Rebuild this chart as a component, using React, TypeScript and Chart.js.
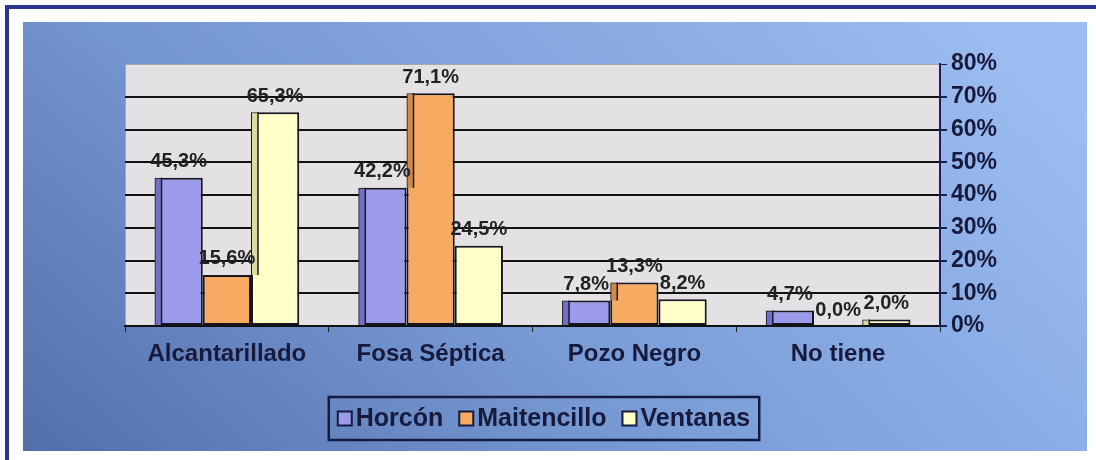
import React, { useEffect, useRef } from "react";
import { Chart, registerables } from "chart.js";

Chart.register(...registerables);

const categories = ["Alcantarillado", "Fosa Séptica", "Pozo Negro", "No tiene"];
const seriesNames = ["Horcón", "Maitencillo", "Ventanas"];
const horcon = [45.3, 42.2, 7.8, 4.7];
const maitencillo = [15.6, 71.1, 13.3, 0.0];
const ventanas = [65.3, 24.5, 8.2, 2.0];
const yMin = 0;
const yMax = 80;
const yStep = 10;

const faceColors = ["#9c9aea", "#f6aa62", "#ffffc8"];
const sideColors = ["#7270c6", "#cf8a48", "#dcdaa0"];
const textColor = "#171a3c";
const FONT = "'Liberation Sans', Arial, sans-serif";

const fmt = (v: number) => v.toFixed(1).replace(".", ",") + "%";

const backgroundPlugin = {
  id: "bgPlugin",
  beforeDraw(chart: any) {
    const { ctx, width, height, chartArea } = chart;
    ctx.save();
    ctx.fillStyle = "#ffffff";
    ctx.fillRect(0, 0, width, height);
    ctx.fillStyle = "#2b3490";
    ctx.fillRect(5, 5, width - 5, 4);
    ctx.fillRect(5, 5, 4, height - 5);
    const x0 = 23, y0 = 22, x1 = 1087, y1 = 451;
    const g = ctx.createLinearGradient(x0, y1, x0 + 500, y0 - 300);
    g.addColorStop(0, "#5875b0");
    g.addColorStop(0.45, "#7c9fda");
    g.addColorStop(1, "#9cbcf0");
    ctx.fillStyle = g;
    ctx.fillRect(x0, y0, x1 - x0, y1 - y0);
    const g2 = ctx.createLinearGradient(x0, 0, x1, 0);
    g2.addColorStop(0, "rgba(40,60,120,0.10)");
    g2.addColorStop(1, "rgba(160,200,255,0.12)");
    ctx.fillStyle = g2;
    ctx.fillRect(x0, y0, x1 - x0, y1 - y0);
    ctx.fillStyle = "#e3e1e3";
    ctx.fillRect(chartArea.left, chartArea.top, chartArea.right - chartArea.left, chartArea.bottom - chartArea.top);
    ctx.strokeStyle = "#a8a8ac";
    ctx.lineWidth = 1;
    ctx.strokeRect(chartArea.left + 0.5, chartArea.top + 0.5, chartArea.right - chartArea.left - 1, chartArea.bottom - chartArea.top - 1);
    ctx.restore();
  },
};

const barDecorPlugin = {
  id: "barDecor",
  afterDatasetsDraw(chart: any) {
    const { ctx } = chart;
    ctx.save();
    const metas = chart.data.datasets.map((_: any, i: number) => chart.getDatasetMeta(i));
    metas.forEach((meta: any, i: number) => {
      meta.data.forEach((bar: any, j: number) => {
        const p = bar.getProps(["x", "y", "base", "width"], true);
        const left = p.x - p.width / 2;
        let bottom = p.base;
        if (i > 0) {
          const prev = metas[i - 1].data[j].getProps(["y"], true);
          bottom = Math.min(p.base, prev.y);
        }
        if (bottom - p.y > 1) {
          ctx.fillStyle = sideColors[i];
          ctx.fillRect(left + 1, p.y + 1, 6, bottom - p.y - 1);
          ctx.strokeStyle = "#1a1a2a";
          ctx.lineWidth = 1.5;
          ctx.beginPath();
          ctx.moveTo(left + 7, p.y);
          ctx.lineTo(left + 7, bottom);
          ctx.stroke();
        }
      });
    });
    ctx.fillStyle = "#222226";
    ctx.font = `bold 20px ${FONT}`;
    ctx.textAlign = "center";
    ctx.textBaseline = "bottom";
    metas.forEach((meta: any, i: number) => {
      const ds = chart.data.datasets[i];
      meta.data.forEach((bar: any, j: number) => {
        const p = bar.getProps(["x", "y"], true);
        ctx.fillText(fmt(ds.data[j]), p.x, p.y - 6);
      });
    });
    ctx.restore();
  },
  afterDraw(chart: any) {
    const { ctx } = chart;
    ctx.save();
    ctx.font = `bold 25px ${FONT}`;
    const sq = 14, gapSq = 4, gapItem = 16, pad = 9;
    const items = chart.data.datasets.map((d: any, i: number) => ({
      label: d.label,
      color: faceColors[i],
      w: sq + gapSq + ctx.measureText(d.label).width,
    }));
    const total = items.reduce((s: number, it: any) => s + it.w, 0) + gapItem * (items.length - 1);
    const cx = 544;
    const boxW = total + pad * 2;
    const bx = cx - boxW / 2;
    const by = 397, bh = 43;
    ctx.strokeStyle = "#171a40";
    ctx.lineWidth = 2.5;
    ctx.strokeRect(bx, by, boxW, bh);
    let x = bx + pad;
    const my = by + bh / 2;
    items.forEach((it: any) => {
      ctx.fillStyle = it.color;
      ctx.fillRect(x, my - sq / 2, sq, sq);
      ctx.strokeStyle = "#171a40";
      ctx.lineWidth = 2;
      ctx.strokeRect(x, my - sq / 2, sq, sq);
      ctx.fillStyle = textColor;
      ctx.textAlign = "left";
      ctx.textBaseline = "middle";
      ctx.fillText(it.label, x + sq + gapSq, my + 1);
      x += it.w + gapItem;
    });
    ctx.restore();
  },
};

export default function App() {
  const ref = useRef<HTMLCanvasElement | null>(null);
  useEffect(() => {
    if (!ref.current) return;
    const seriesValues = [horcon, maitencillo, ventanas];
    const chart = new Chart(ref.current, {
      type: "bar",
      data: {
        labels: categories,
        datasets: seriesNames.map((name, i) => ({
          label: name,
          data: seriesValues[i],
          backgroundColor: faceColors[i],
          borderColor: "#15151f",
          borderWidth: 2,
          borderSkipped: false,
          categoryPercentage: 0.71,
          barPercentage: 1,
        })),
      },
      options: {
        responsive: false,
        animation: false,
        devicePixelRatio: 1,
        layout: { padding: { left: 125, top: 64, right: 0, bottom: 0 } },
        plugins: { legend: { display: false }, tooltip: { enabled: false } },
        scales: {
          x: {
            afterFit: (s: any) => { s.height = 134; },
            grid: { display: true, drawOnChartArea: false, offset: true, tickLength: 6, color: "#222", lineWidth: 1 },
            border: { display: true, color: "#111", width: 2 },
            ticks: { color: textColor, font: { family: FONT, size: 24, weight: "bold" }, padding: 8 },
          },
          y: {
            position: "right",
            min: yMin,
            max: yMax,
            afterFit: (s: any) => { s.width = 156; },
            grid: {
              color: (c: any) => (c.tick && c.tick.value === yMax ? "#a8a8ac" : "#111111"),
              lineWidth: (c: any) => (c.tick && c.tick.value === yMax ? 1 : 2),
              tickLength: 7,
              tickColor: "#1b2150",
            },
            border: { display: true, color: "#1b2150", width: 2 },
            ticks: {
              stepSize: yStep,
              color: textColor,
              padding: 4,
              font: { family: FONT, size: 23, weight: "bold" },
              callback: (v: any) => v + "%",
            },
          },
        },
      },
      plugins: [backgroundPlugin, barDecorPlugin],
    });
    return () => chart.destroy();
  }, []);
  return (
    <div style={{ position: "absolute", left: 0, top: 0, width: 1096, height: 460 }}>
      <canvas ref={ref} width={1096} height={460} style={{ display: "block", width: 1096, height: 460 }} />
    </div>
  );
}
